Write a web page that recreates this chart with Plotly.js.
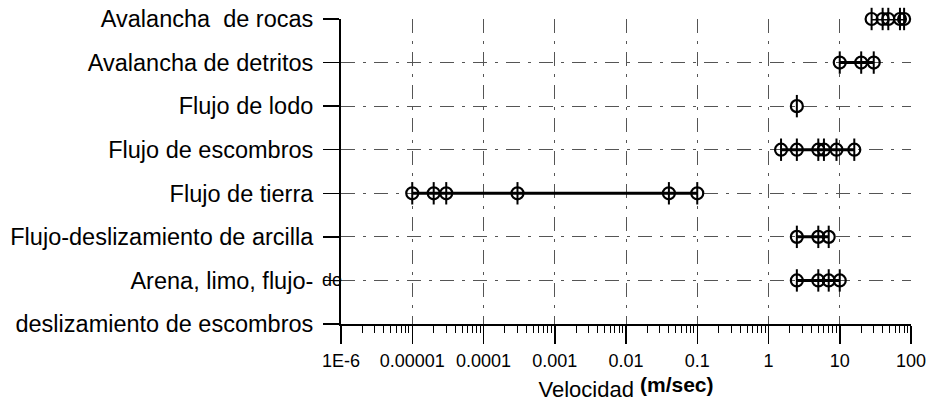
<!DOCTYPE html>
<html>
<head>
<meta charset="utf-8">
<script src="https://cdn.plot.ly/plotly-3.0.1.min.js"></script>
<style>
  html, body { margin: 0; padding: 0; background: #fff; }
  #chart { width: 929px; height: 402px; }
</style>
</head>
<body>
<div id="chart"></div>
<script>
// ---- Data ----
const categories = [
  'Avalancha de rocas',
  'Avalancha de detritos',
  'Flujo de lodo',
  'Flujo de escombros',
  'Flujo de tierra',
  'Flujo-deslizamiento de arcilla',
  'Arena, limo, flujo-deslizamiento de escombros'
];
// y-axis tick labels (last category is printed on two lines)
const tickLabels = [
  'Avalancha\u00a0\u00a0de rocas',
  'Avalancha de detritos',
  'Flujo de lodo',
  'Flujo de escombros',
  'Flujo de tierra',
  'Flujo-deslizamiento de arcilla',
  'Arena, limo, flujo-',
  'deslizamiento de escombros'
];
// velocities in m/sec
const vAvalanchaRocas    = [28, 40, 48, 70, 80];
const vAvalanchaDetritos = [10, 20, 30];
const vFlujoLodo         = [2.5];
const vFlujoEscombros    = [1.5, 2.5, 5, 6, 9, 16];
const vFlujoTierra       = [0.00001, 0.00002, 0.00003, 0.0003, 0.04, 0.1];
const vFlujoArcilla      = [2.5, 5, 7];
const vArenaLimo         = [2.5, 5, 7, 10];

const xTickVals = [1e-6, 1e-5, 1e-4, 1e-3, 1e-2, 1e-1, 1, 10, 100];
const xTickText = ['1E-6', '0.00001', '0.0001', '0.001', '0.01', '0.1', '1', '10', '100'];

const series = [vAvalanchaRocas, vAvalanchaDetritos, vFlujoLodo, vFlujoEscombros,
                vFlujoTierra, vFlujoArcilla, vArenaLimo];

// minor log ticks 2..9 in every decade
const minorVals = [];
xTickVals.slice(0, -1).forEach(d => { for (let k = 2; k <= 9; k++) minorVals.push(d * k); });

const FONT = '"Liberation Sans", Arial, Helvetica, sans-serif';
const traces = [];
series.forEach((vals, i) => {
  const ys = vals.map(() => i);
  traces.push({
    type: 'scatter', mode: 'lines+markers', x: vals, y: ys, name: categories[i],
    line: { color: '#000', width: 3 },
    marker: { symbol: 'circle-open', size: 12, color: '#000', line: { color: '#000', width: 2.2 } },
    cliponaxis: false, showlegend: false, hoverinfo: 'x+name'
  });
  traces.push({
    type: 'scatter', mode: 'markers', x: vals, y: ys, name: categories[i],
    marker: { symbol: 'line-ns-open', size: 16, color: '#000', line: { color: '#000', width: 2 } },
    cliponaxis: false, showlegend: false, hoverinfo: 'skip'
  });
});

const gridDash = '14px,8px,3px,8px';
const layout = {
  width: 929, height: 402,
  margin: { l: 341, r: 18, t: 19, b: 78, pad: 0 },
  paper_bgcolor: '#fff', plot_bgcolor: '#fff',
  font: { family: FONT, color: '#000' },
  showlegend: false,
  xaxis: {
    type: 'log', range: [-6, 2],
    tickmode: 'array', tickvals: xTickVals, ticktext: xTickText,
    tickfont: { family: FONT, size: 18, color: '#000' },
    ticks: 'outside', ticklen: 18, tickwidth: 1.5, tickcolor: '#000',
    ticklabelstandoff: 1,
    minor: { tickvals: minorVals, ticks: 'outside', ticklen: 7, tickwidth: 1, tickcolor: '#000', showgrid: false },
    showline: true, linecolor: '#000', linewidth: 2,
    showgrid: true, gridcolor: '#555', gridwidth: 1, griddash: gridDash,
    zeroline: false,
    title: {
      text: 'Velocidad <span style="font-weight:bold;font-size:21px;baseline-shift:5px">(m/sec)</span>',
      font: { family: FONT, size: 22, color: '#000' },
      standoff: 16
    }
  },
  yaxis: {
    type: 'linear', range: [7, 0],
    tickmode: 'array', tickvals: tickLabels.map((t, i) => i), ticktext: tickLabels,
    tickfont: { family: FONT, size: 23.5, color: '#000' },
    ticks: 'outside', ticklen: 16, tickwidth: 1.5, tickcolor: '#000',
    ticklabelstandoff: 5,
    showline: true, linecolor: '#000', linewidth: 2,
    showgrid: true, gridcolor: '#555', gridwidth: 1, griddash: gridDash,
    zeroline: false
  },
  annotations: [{
    xref: 'paper', yref: 'y', x: -0.015, y: 6, text: 'de', showarrow: false,
    font: { family: FONT, size: 18, color: '#000' }, xanchor: 'center', yanchor: 'middle'
  }]
};

Plotly.newPlot('chart', traces, layout, { staticPlot: true, displayModeBar: false });
</script>
</body>
</html>
